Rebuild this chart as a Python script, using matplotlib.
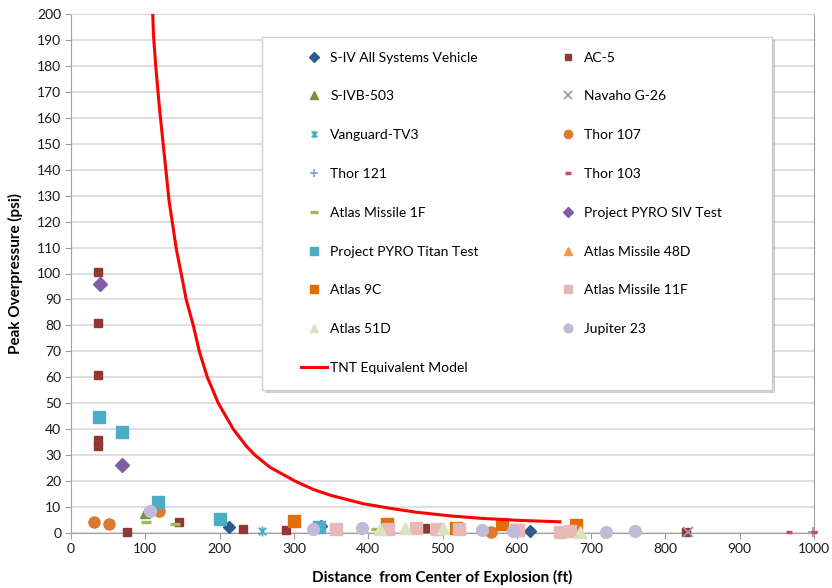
import matplotlib
matplotlib.use("Agg")
import matplotlib.pyplot as plt
from matplotlib.path import Path
from matplotlib.patches import Rectangle

plt.rcParams['font.family'] = ['Lato', 'DejaVu Sans']

# ---- data (ft, psi) ----
siv_x = [212, 337, 618]
siv_y = [2.5, 2.8, 0.8]

ac5_x = [37, 37, 37, 37, 37, 75, 145, 231, 290, 477, 828]
ac5_y = [100.5, 81, 61, 36, 33.5, 0.3, 4.4, 1.4, 1.0, 1.8, 0.3]

sivb_x = [100]
sivb_y = [7.6]

navaho_x = [830]
navaho_y = [0.4]

vanguard_x = [257]
vanguard_y = [0.9]

thor107_x = [31, 51, 118, 565]
thor107_y = [4.3, 3.3, 8.4, 0.5]

thor121_x = [998]
thor121_y = [0.3]

thor103_x = [966, 1000]
thor103_y = [0.2, 0.5]

atlas1f_x = [101, 140, 410]
atlas1f_y = [4.2, 3.4, 1.6]

pyro_siv_x = [39, 68]
pyro_siv_y = [95.8, 26.3]

pyro_titan_x = [38, 68, 117, 200, 334, 600]
pyro_titan_y = [44.8, 38.8, 11.8, 5.3, 2.2, 1.2]

atlas48d_x = [430, 683]
atlas48d_y = [2.0, 1.2]

atlas9c_x = [300, 425, 518, 580, 680]
atlas9c_y = [4.8, 3.3, 2.0, 3.5, 3.0]

atlas11f_x = [357, 427, 464, 493, 522, 601, 658, 671]
atlas11f_y = [1.4, 1.4, 1.8, 1.4, 1.4, 1.2, 0.3, 0.8]

atlas51d_x = [416, 450, 501, 685]
atlas51d_y = [1.5, 1.8, 2.0, 0.3]

jupiter_x = [106, 326, 391, 553, 595, 720, 759]
jupiter_y = [8.4, 1.4, 1.8, 1.0, 0.9, 0.3, 0.8]

tnt_x = [110, 111, 114, 119, 124, 132, 142, 149, 155, 164.6, 172.7, 183.5, 198.3,
         218.5, 236.5, 247.6, 268, 301.5, 326, 348.6, 393, 430, 465, 510, 555, 600, 658]
tnt_y = [200, 192, 180, 164, 150, 128, 109, 99, 90, 80, 70, 60, 50,
         40, 33.3, 30, 25.3, 20, 16.8, 14.6, 11.3, 9.5, 8.0, 6.6, 5.6, 4.9, 4.3]

# asterisk marker (X with a vertical bar) like Excel's star
star = Path([(-1, -1), (1, 1), (-1, 1), (1, -1), (0, -1.3), (0, 1.3)],
            [Path.MOVETO, Path.LINETO, Path.MOVETO, Path.LINETO, Path.MOVETO, Path.LINETO])

W, H = 832, 588
fig = plt.figure(figsize=(W / 100, H / 100), dpi=100)
ax = fig.add_axes([71 / W, 1 - 533 / H, (814 - 71) / W, (533 - 14) / H])

series = [
    ("S-IV All Systems Vehicle", siv_x, siv_y, dict(marker='D', color='#2F5A8E', ms=6.5)),
    ("AC-5", ac5_x, ac5_y, dict(marker='s', color='#943634', ms=6)),
    ("S-IVB-503", sivb_x, sivb_y, dict(marker='^', color='#76923C', ms=7.5)),
    ("Navaho G-26", navaho_x, navaho_y, dict(marker='x', color='#9E9AB0', ms=7, mew=1.3)),
    ("Vanguard-TV3", vanguard_x, vanguard_y, dict(marker=star, color='#4BACC6', ms=7, mew=1.4, mfc='none')),
    ("Thor 107", thor107_x, thor107_y, dict(marker='o', color='#DB7B32', ms=8)),
    ("Thor 121", thor121_x, thor121_y, dict(marker='+', color='#8EA9DB', ms=7, mew=1.4)),
    ("Thor 103", thor103_x, thor103_y, dict(marker='_', color='#D04A5E', ms=5, mew=2.5)),
    ("Atlas Missile 1F", atlas1f_x, atlas1f_y, dict(marker='_', color='#9BBB59', ms=7, mew=2.5)),
    ("Project PYRO SIV Test", pyro_siv_x, pyro_siv_y, dict(marker='D', color='#7E60A2', ms=7)),
    ("Project PYRO Titan Test", pyro_titan_x, pyro_titan_y, dict(marker='s', color='#4BACC6', ms=8)),
    ("Atlas Missile 48D", atlas48d_x, atlas48d_y, dict(marker='^', color='#F79646', ms=7.5)),
    ("Atlas 9C", atlas9c_x, atlas9c_y, dict(marker='s', color='#E46C0A', ms=8)),
    ("Atlas Missile 11F", atlas11f_x, atlas11f_y, dict(marker='s', color='#E6B9B8', ms=8)),
    ("Atlas 51D", atlas51d_x, atlas51d_y, dict(marker='^', color='#D7E4BD', ms=8)),
    ("Jupiter 23", jupiter_x, jupiter_y, dict(marker='o', color='#C3B9D8', ms=8.5)),
]

handles = {}
for name, xs, ys, st in series:
    st = dict(st)
    c = st.pop('color')
    h, = ax.plot(xs, ys, linestyle='none', color=c, mec=st.pop('mec', c), label=name,
                 clip_on=False, zorder=3, **st)
    handles[name] = h

tnt, = ax.plot(tnt_x, tnt_y, color='#FF0000', lw=2.2, label='TNT Equivalent Model',
               zorder=4, solid_joinstyle='round')
handles['TNT Equivalent Model'] = tnt

ax.set_xlim(0, 1000)
ax.set_ylim(0, 200)
ax.set_xticks(range(0, 1001, 100))
ax.set_yticks(range(0, 201, 10))
ax.grid(axis='y', color='#D9D9D9', lw=1.2)
ax.set_axisbelow(True)
for s in ax.spines.values():
    s.set_color('#A0A0A0')
ax.spines['top'].set_color('#D9D9D9')
ax.tick_params(axis='both', direction='out', length=4, color='#A0A0A0',
               labelsize=10, labelcolor='#1A1A1A', pad=3)

ax.set_xlabel('Distance  from Center of Explosion (ft)', fontsize=11, fontweight='bold', labelpad=11)
ax.set_ylabel('Peak Overpressure (psi)', fontsize=11, fontweight='bold', labelpad=10)

# legend box with shadow, drawn by hand
bx0, by0, bx1, by1 = 262, 37, 772, 390
fig.patches.append(Rectangle((bx0 + 3, H - by1 - 3), bx1 - bx0, by1 - by0,
                             transform=None, facecolor='#B0B0B0', edgecolor='none',
                             alpha=0.6, zorder=5))
fig.patches.append(Rectangle((bx0, H - by1), bx1 - bx0, by1 - by0, transform=None,
                             facecolor='white', edgecolor='#D0D0D0', lw=1, zorder=6))

order = ["S-IV All Systems Vehicle", "S-IVB-503", "Vanguard-TV3", "Thor 121",
         "Atlas Missile 1F", "Project PYRO Titan Test", "Atlas 9C", "Atlas 51D",
         "TNT Equivalent Model",
         "AC-5", "Navaho G-26", "Thor 107", "Thor 103", "Project PYRO SIV Test",
         "Atlas Missile 48D", "Atlas Missile 11F", "Jupiter 23"]
leg = fig.legend([handles[n] for n in order], order, ncol=2, frameon=False,
                 loc='upper left', bbox_to_anchor=(301 / W, 1 - 51.5 / H),
                 fontsize=10, markerscale=0.75, handlelength=1.9, handletextpad=0.2,
                 labelspacing=1.93, columnspacing=5.5, borderpad=0, borderaxespad=0)
leg.set_zorder(7)

fig.savefig('out.png', dpi=100)
